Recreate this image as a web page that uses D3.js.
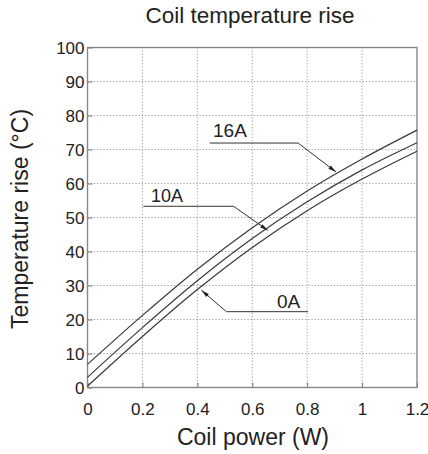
<!DOCTYPE html>
<html>
<head>
<meta charset="utf-8">
<script src="https://cdn.jsdelivr.net/npm/d3@7"></script>
<style>
  body { margin: 0; background: #fff; }
  svg { display: block; font-family: "Liberation Sans", Arial, sans-serif; }
</style>
</head>
<body>
<svg id="chart" width="428" height="454"></svg>
<script>
const power = [0, 0.2, 0.4, 0.6, 0.8, 1.0, 1.2];
const rise16A = [6.8, 21.2, 34.8, 47, 57.8, 67.2, 75.7];
const rise10A = [3, 17.6, 31.4, 43.8, 54.6, 64, 72];
const rise0A = [0.4, 15, 28.8, 41.2, 52, 61.3, 69.5];
const xTicks = [0, 0.2, 0.4, 0.6, 0.8, 1, 1.2];
const yTicks = [0, 10, 20, 30, 40, 50, 60, 70, 80, 90, 100];

// leader lines in data units: flat part start, elbow, arrow tip
const labels = [
  { name: "16A", start: [0.445, 71.9], elbow: [0.767, 71.9], tip: [0.905, 63.4] },
  { name: "10A", start: [0.203, 53.3], elbow: [0.532, 53.3], tip: [0.657, 46.2] },
  { name: "0A", start: [0.506, 22.3], elbow: [0.506, 22.3], tip: [0.415, 28.6], end: [0.803, 22.3] }
];

const svg = d3.select("#chart");
const margin = { top: 47.5, right: 11, bottom: 66.5, left: 87.5 };
const width = 428, height = 454;

const x = d3.scaleLinear().domain([0, 1.2]).range([margin.left, width - margin.right]);
const y = d3.scaleLinear().domain([0, 100]).range([height - margin.bottom, margin.top]);

// grid
svg.append("g")
  .selectAll("line")
  .data(xTicks.slice(1, -1))
  .join("line")
  .attr("x1", (d) => x(d)).attr("x2", (d) => x(d))
  .attr("y1", y(0)).attr("y2", y(100))
  .attr("stroke", "#999").attr("stroke-dasharray", "1.2,2");

svg.append("g")
  .selectAll("line")
  .data(yTicks.slice(1, -1))
  .join("line")
  .attr("x1", x(0)).attr("x2", x(1.2))
  .attr("y1", (d) => y(d)).attr("y2", (d) => y(d))
  .attr("stroke", "#999").attr("stroke-dasharray", "1.2,2");

// axes, ticks pointing inward
svg.append("g")
  .attr("transform", `translate(0,${y(0)})`)
  .call(d3.axisBottom(x).tickValues(xTicks).tickFormat(d3.format("")).tickSizeInner(-5).tickSizeOuter(0).tickPadding(15))
  .call((g) => g.select(".domain").remove())
  .call((g) => g.selectAll("line").attr("stroke", "#777"))
  .selectAll("text").style("font-size", "17px").attr("fill", "#222");

svg.append("g")
  .attr("transform", `translate(${x(0)},0)`)
  .call(d3.axisLeft(y).tickValues(yTicks).tickSizeInner(-5).tickSizeOuter(0).tickPadding(3))
  .call((g) => g.select(".domain").remove())
  .call((g) => g.selectAll("line").attr("stroke", "#777"))
  .selectAll("text").style("font-size", "17px").attr("fill", "#222").attr("dy", "0.36em");

// frame
svg.append("rect")
  .attr("x", x(0)).attr("y", y(100))
  .attr("width", x(1.2) - x(0)).attr("height", y(0) - y(100))
  .attr("fill", "none").attr("stroke", "#888").attr("stroke-width", 1.4);

// curves
const line = d3.line().x((d) => x(d[0])).y((d) => y(d[1])).curve(d3.curveMonotoneX);
[rise16A, rise10A, rise0A].forEach((s) => {
  svg.append("path")
    .attr("d", line(power.map((p, i) => [p, s[i]])))
    .attr("fill", "none").attr("stroke", "#3a3a3a").attr("stroke-width", 1.2);
});

// leaders with arrow heads
labels.forEach((l) => {
  const pts = l.end ? [l.end, l.start, l.tip] : [l.start, l.elbow, l.tip];
  svg.append("polyline")
    .attr("points", pts.map((p) => `${x(p[0])},${y(p[1])}`).join(" "))
    .attr("fill", "none").attr("stroke", "#333").attr("stroke-width", 1);
  const a = pts[1], b = pts[2];
  const ang = Math.atan2(y(b[1]) - y(a[1]), x(b[0]) - x(a[0]));
  const tx = x(b[0]), ty = y(b[1]);
  const len = 8, w = 2;
  const bx = tx - len * Math.cos(ang), by = ty - len * Math.sin(ang);
  svg.append("polygon")
    .attr("points", [
      [tx, ty],
      [bx + w * Math.sin(ang), by - w * Math.cos(ang)],
      [bx - w * Math.sin(ang), by + w * Math.cos(ang)]
    ].map((p) => p.join(",")).join(" "))
    .attr("fill", "#222");
});

svg.append("text").attr("x", 213).attr("y", 137).text("16A").style("font-size", "19px").attr("fill", "#222");
svg.append("text").attr("x", 151).attr("y", 202).text("10A").style("font-size", "18px").attr("fill", "#222");
svg.append("text").attr("x", 277).attr("y", 308).text("0A").style("font-size", "19px").attr("fill", "#222");

// titles
svg.append("text").attr("x", 250).attr("y", 23).attr("text-anchor", "middle")
  .text("Coil temperature rise").style("font-size", "22.5px").attr("fill", "#222");
svg.append("text").attr("x", 253).attr("y", 445).attr("text-anchor", "middle")
  .text("Coil power (W)").style("font-size", "23px").attr("fill", "#222");
svg.append("text").attr("transform", `translate(28,219) rotate(-90)`).attr("text-anchor", "middle")
  .text("Temperature rise (°C)").style("font-size", "23px").attr("fill", "#222");
</script>
</body>
</html>
